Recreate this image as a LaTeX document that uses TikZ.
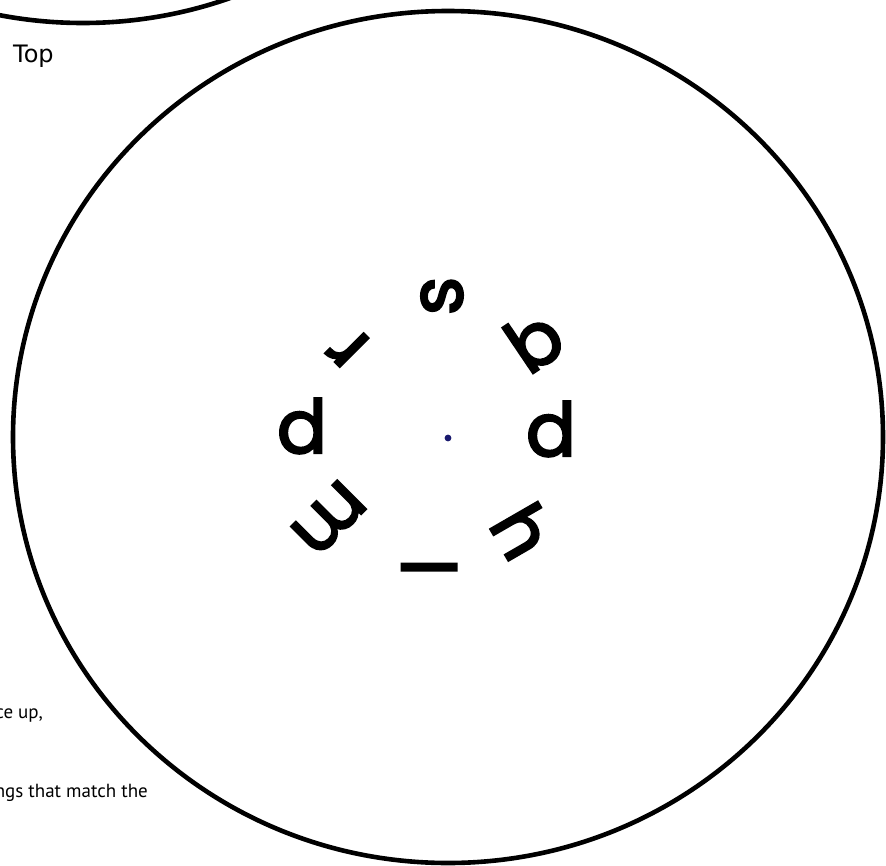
\documentclass[tikz,border=0pt]{standalone}
\usepackage{fontspec}
\setmainfont{Poppins}
\newfontfamily\glyphfont[FakeBold=3]{Poppins}
\newfontfamily\notefont{PT Sans}
\newfontfamily\topfont{DejaVu Sans}
\definecolor{dotblue}{RGB}{25,25,110}
\tikzset{
  rim/.style={line width=4.6pt, draw=black},
  glyph/.style={inner sep=0pt, font=\glyphfont\fontsize{74}{80}\selectfont},
  notetext/.style={inner sep=0pt, font=\notefont\fontsize{19}{21}\selectfont},
}
\begin{document}
\begin{tikzpicture}[x=1pt,y=1pt]
% coordinates: (x, -y) of the reference pixels
\useasboundingbox (0,0) rectangle (886,-865);
\clip (0,0) rectangle (886,-865);
\fill[white] (0,0) rectangle (886,-865);
% partial face at top left
\draw[rim] (83,403) ellipse [x radius=435pt, y radius=426pt];
% main face
\draw[rim] (448,-437) ellipse [x radius=435pt, y radius=426pt];
\node[anchor=base west, inner sep=0pt, font=\topfont\fontsize{24}{26}\selectfont] (top) at (13,-62) {Top};
\node[notetext, anchor=base east] (n1) at (43,-718) {ce up,};
\node[notetext, anchor=base east] (n2) at (148,-797) {ngs that match the};
% letters
\node[glyph, rotate=90] (s) at (442,-296) {s};
\node[glyph, rotate=34] (b) at (534,-340) {b};
\node[glyph] (d1) at (551,-429) {d};
\node[glyph, rotate=-60] (h) at (523,-531) {h};
\node[glyph, rotate=90] (l) at (429,-567) {l};
\node[glyph, rotate=-135] (m) at (329,-518) {m};
\node[glyph] (d2) at (302,-426) {d};
\node[glyph, rotate=135] (r) at (348,-347) {r};
\fill[dotblue] (448,-438) circle[radius=3.4pt];
\end{tikzpicture}
\end{document}
